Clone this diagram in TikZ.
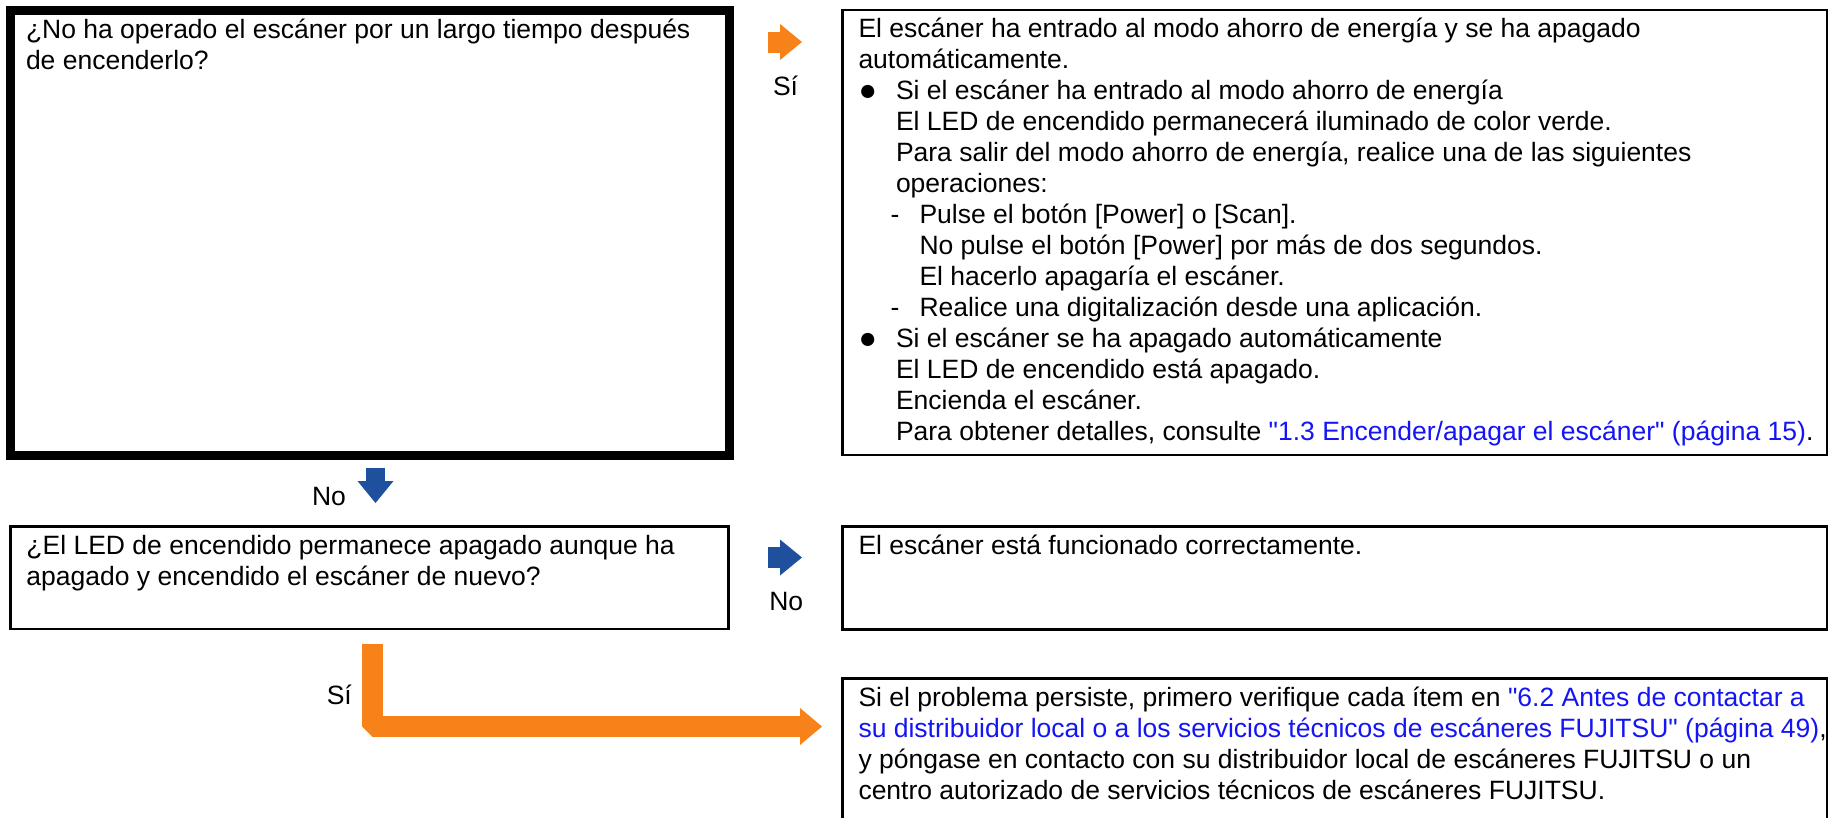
\documentclass[tikz,border=0pt]{standalone}
\usepackage{fontspec}
\setmainfont{Liberation Sans}[Ligatures=TeXOff]
\usetikzlibrary{arrows.meta,calc}
\definecolor{arrorange}{RGB}{247,130,25}
\definecolor{arrblue}{RGB}{30,80,158}
\definecolor{linkblue}{RGB}{20,20,245}
\newcommand{\lnk}[1]{\textcolor{linkblue}{#1}}
\newcommand{\bodyfont}{\fontsize{26.5}{31}\selectfont}
\newcommand{\bul}{\makebox[37.5pt][l]{\raisebox{-0.5pt}{\scalebox{1.15}{●}}}}
\newcommand{\ind}{\hspace*{37.5pt}}
\newcommand{\dsh}{\hspace*{32pt}\makebox[29pt][l]{-}}
\newcommand{\dind}{\hspace*{61pt}}
\begin{document}
\begin{tikzpicture}[x=1pt,y=-1pt,
  thinbox/.style={draw=black,line width=2.5pt,inner sep=0pt,outer sep=0pt,anchor=north west},
  thickbox/.style={draw=black,line width=9pt,inner sep=0pt,outer sep=0pt,anchor=north west},
  txt/.style={anchor=base west,inner sep=0pt,outer sep=0pt,font=\bodyfont},
  blk/.style={line width=21pt,-{Triangle[length=22pt,width=36pt,line width=0pt]}},
]
\clip (0,0) rectangle (1829,817);
\fill[white] (0,0) rectangle (1829,817);

% boxes
\node[thickbox,minimum width=719pt,minimum height=444.8pt] (q1) at (10,10.5) {};
\node[thinbox,minimum width=984.5pt,minimum height=445pt] (a1) at (842.5,10) {};
\node[thinbox,minimum width=718.2pt,minimum height=102.6pt] (q2) at (10.5,526.3) {};
\node[thinbox,minimum width=984.5pt,minimum height=103pt] (a2) at (842.5,526.3) {};
\node[thinbox,minimum width=984.5pt,minimum height=200pt] (a3) at (842.5,678.3) {};

% texts
\node[txt] (t1) at ($(q1.north west)+(16,27.5)$) {\begin{minipage}[t]{700pt}\bodyfont
¿No ha operado el escáner por un largo tiempo después\\
de encenderlo?\end{minipage}};

\node[txt] (t2) at ($(a1.north west)+(16,27.5)$) {\begin{minipage}[t]{970pt}\bodyfont
El escáner ha entrado al modo ahorro de energía y se ha apagado\\
automáticamente.\\
\bul Si el escáner ha entrado al modo ahorro de energía\\
\ind El LED de encendido permanecerá iluminado de color verde.\\
\ind Para salir del modo ahorro de energía, realice una de las siguientes\\
\ind operaciones:\\
\dsh Pulse el botón [Power] o [Scan].\\
\dind No pulse el botón [Power] por más de dos segundos.\\
\dind El hacerlo apagaría el escáner.\\
\dsh Realice una digitalización desde una aplicación.\\
\bul Si el escáner se ha apagado automáticamente\\
\ind El LED de encendido está apagado.\\
\ind Encienda el escáner.\\
\ind Para obtener detalles, consulte \lnk{"1.3 Encender/apagar el escáner" (página 15)}.\end{minipage}};

\node[txt] (t3) at ($(q2.north west)+(16,27.7)$) {\begin{minipage}[t]{700pt}\bodyfont
¿El LED de encendido permanece apagado aunque ha\\
apagado y encendido el escáner de nuevo?\end{minipage}};

\node[txt] (t4) at ($(a2.north west)+(16,27.7)$) {El escáner está funcionado correctamente.};

\node[txt] (t5) at ($(a3.north west)+(16,28.2)$) {\begin{minipage}[t]{970pt}\bodyfont
Si el problema persiste, primero verifique cada ítem en \lnk{"6.2 Antes de contactar a}\\
\lnk{su distribuidor local o a los servicios técnicos de escáneres FUJITSU" (página 49)},\\
y póngase en contacto con su distribuidor local de escáneres FUJITSU o un\\
centro autorizado de servicios técnicos de escáneres FUJITSU.\end{minipage}};

% labels
\node[txt] (l1) at (773,95) {Sí};
\node[txt] (l2) at (312,505) {No};
\node[txt] (l3) at (769.3,610.7) {No};
\node[txt] (l4) at (326.8,704) {Sí};

% arrows
\coordinate (s1) at (768,42);
\coordinate (e1) at (802,42);
\draw[blk,arrorange] (s1) -- (e1);

\coordinate (s2) at (375.5,468);
\coordinate (e2) at (375.5,503);
\draw[blk,arrblue,line width=19pt] (s2) -- (e2);

\coordinate (s3) at (768,557.5);
\coordinate (e3) at (802,557.5);
\draw[blk,arrblue] (s3) -- (e3);

\coordinate (s4) at (372.5,644);
\coordinate (c4) at (372.5,726.5);
\coordinate (e4) at (822,726.5);
\draw[blk,arrorange,line join=bevel,-{Triangle[length=22pt,width=37pt,line width=0pt]}] (s4) -- (c4) -- (e4);
\end{tikzpicture}
\end{document}
